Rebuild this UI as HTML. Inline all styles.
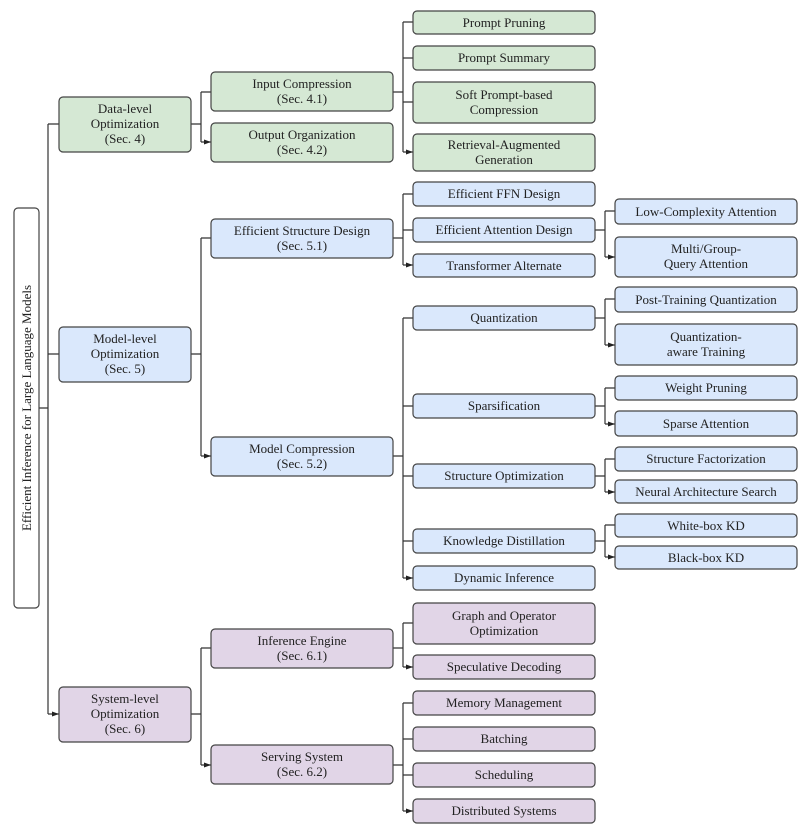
<!DOCTYPE html>
<html><head><meta charset="utf-8"><style>
html,body{margin:0;padding:0;background:#fff}
svg text{font-family:"Liberation Serif",serif;font-size:13px;fill:#222}
</style></head><body>
<svg width="807" height="831" viewBox="0 0 807 831" xmlns="http://www.w3.org/2000/svg">
<defs><marker id="a" markerWidth="7" markerHeight="6" refX="7" refY="3" orient="auto" markerUnits="userSpaceOnUse"><path d="M0,0.5 L7,3 L0,5.5z" fill="#222"/></marker></defs>
<g stroke="#333" stroke-width="1.2" fill="none">
<!-- root -->
<path d="M39,408H48M48,124V714"/>
<path d="M48,124H59M48,354H59M48,714H59" marker-end="url(#a)"/>
<!-- data -->
<path d="M191,124H201M201,92V142"/>
<path d="M201,92H211M201,142H211" marker-end="url(#a)"/>
<path d="M393,92H403M403,22V152"/>
<path d="M403,22H413M403,58H413M403,102H413M403,152H413" marker-end="url(#a)"/>
<!-- model -->
<path d="M191,354H201M201,238V456"/>
<path d="M201,238H211M201,456H211" marker-end="url(#a)"/>
<path d="M393,238H403M403,194V265"/>
<path d="M403,194H413M403,230H413M403,265H413" marker-end="url(#a)"/>
<path d="M595,230H605M605,211V257"/>
<path d="M605,211H615M605,257H615" marker-end="url(#a)"/>
<path d="M393,456H403M403,318V578"/>
<path d="M403,318H413M403,406H413M403,476H413M403,541H413M403,578H413" marker-end="url(#a)"/>
<path d="M595,318H605M605,299V345"/>
<path d="M605,299H615M605,345H615" marker-end="url(#a)"/>
<path d="M595,406H605M605,388V424"/>
<path d="M605,388H615M605,424H615" marker-end="url(#a)"/>
<path d="M595,476H605M605,459V492"/>
<path d="M605,459H615M605,492H615" marker-end="url(#a)"/>
<path d="M595,541H605M605,525V557"/>
<path d="M605,525H615M605,557H615" marker-end="url(#a)"/>
<!-- system -->
<path d="M191,714H201M201,648V765"/>
<path d="M201,648H211M201,765H211" marker-end="url(#a)"/>
<path d="M393,648H403M403,623V667"/>
<path d="M403,623H413M403,667H413" marker-end="url(#a)"/>
<path d="M393,765H403M403,703V811"/>
<path d="M403,703H413M403,739H413M403,775H413M403,811H413" marker-end="url(#a)"/>
</g>
<g stroke="#444" stroke-width="1.2">
<rect x="14" y="208" width="25" height="400" rx="4" fill="#fff"/>
<!-- green -->
<g fill="#d5e8d4">
<rect x="59" y="97" width="132" height="55" rx="4"/>
<rect x="211" y="72" width="182" height="39" rx="4"/>
<rect x="211" y="123" width="182" height="39" rx="4"/>
<rect x="413" y="11" width="182" height="23" rx="4"/>
<rect x="413" y="46" width="182" height="24" rx="4"/>
<rect x="413" y="82" width="182" height="41" rx="4"/>
<rect x="413" y="134" width="182" height="37" rx="4"/>
</g>
<g fill="#dae8fc">
<rect x="59" y="327" width="132" height="55" rx="4"/>
<rect x="211" y="219" width="182" height="39" rx="4"/>
<rect x="211" y="437" width="182" height="39" rx="4"/>
<rect x="413" y="182" width="182" height="24" rx="4"/>
<rect x="413" y="218" width="182" height="24" rx="4"/>
<rect x="413" y="254" width="182" height="23" rx="4"/>
<rect x="413" y="306" width="182" height="24" rx="4"/>
<rect x="413" y="394" width="182" height="24" rx="4"/>
<rect x="413" y="464" width="182" height="24" rx="4"/>
<rect x="413" y="529" width="182" height="24" rx="4"/>
<rect x="413" y="566" width="182" height="24" rx="4"/>
<rect x="615" y="199" width="182" height="25" rx="4"/>
<rect x="615" y="237" width="182" height="40" rx="4"/>
<rect x="615" y="287" width="182" height="25" rx="4"/>
<rect x="615" y="324" width="182" height="41" rx="4"/>
<rect x="615" y="376" width="182" height="24" rx="4"/>
<rect x="615" y="411" width="182" height="25" rx="4"/>
<rect x="615" y="447" width="182" height="24" rx="4"/>
<rect x="615" y="480" width="182" height="23" rx="4"/>
<rect x="615" y="514" width="182" height="23" rx="4"/>
<rect x="615" y="546" width="182" height="23" rx="4"/>
</g>
<g fill="#e1d5e7">
<rect x="59" y="687" width="132" height="55" rx="4"/>
<rect x="211" y="629" width="182" height="39" rx="4"/>
<rect x="211" y="745" width="182" height="39" rx="4"/>
<rect x="413" y="603" width="182" height="41" rx="4"/>
<rect x="413" y="655" width="182" height="24" rx="4"/>
<rect x="413" y="691" width="182" height="24" rx="4"/>
<rect x="413" y="727" width="182" height="24" rx="4"/>
<rect x="413" y="763" width="182" height="24" rx="4"/>
<rect x="413" y="799" width="182" height="24" rx="4"/>
</g>
</g>
<g text-anchor="middle">
<text transform="translate(31,408) rotate(-90)">Efficient Inference for Large Language Models</text>
<text x="125" y="113">Data-level</text><text x="125" y="128">Optimization</text><text x="125" y="143">(Sec. 4)</text>
<text x="302" y="88">Input Compression</text><text x="302" y="103">(Sec. 4.1)</text>
<text x="302" y="139">Output Organization</text><text x="302" y="154">(Sec. 4.2)</text>
<text x="504" y="27">Prompt Pruning</text>
<text x="504" y="62">Prompt Summary</text>
<text x="504" y="99">Soft Prompt-based</text><text x="504" y="114">Compression</text>
<text x="504" y="149">Retrieval-Augmented</text><text x="504" y="164">Generation</text>
<text x="125" y="343">Model-level</text><text x="125" y="358">Optimization</text><text x="125" y="373">(Sec. 5)</text>
<text x="302" y="235">Efficient Structure Design</text><text x="302" y="250">(Sec. 5.1)</text>
<text x="302" y="453">Model Compression</text><text x="302" y="468">(Sec. 5.2)</text>
<text x="504" y="198">Efficient FFN Design</text>
<text x="504" y="234">Efficient Attention Design</text>
<text x="504" y="270">Transformer Alternate</text>
<text x="504" y="322">Quantization</text>
<text x="504" y="410">Sparsification</text>
<text x="504" y="480">Structure Optimization</text>
<text x="504" y="545">Knowledge Distillation</text>
<text x="504" y="582">Dynamic Inference</text>
<text x="706" y="216">Low-Complexity Attention</text>
<text x="706" y="253">Multi/Group-</text><text x="706" y="268">Query Attention</text>
<text x="706" y="304">Post-Training Quantization</text>
<text x="706" y="341">Quantization-</text><text x="706" y="356">aware Training</text>
<text x="706" y="392">Weight Pruning</text>
<text x="706" y="428">Sparse Attention</text>
<text x="706" y="463">Structure Factorization</text>
<text x="706" y="496">Neural Architecture Search</text>
<text x="706" y="530">White-box KD</text>
<text x="706" y="562">Black-box KD</text>
<text x="125" y="703">System-level</text><text x="125" y="718">Optimization</text><text x="125" y="733">(Sec. 6)</text>
<text x="302" y="645">Inference Engine</text><text x="302" y="660">(Sec. 6.1)</text>
<text x="302" y="761">Serving System</text><text x="302" y="776">(Sec. 6.2)</text>
<text x="504" y="620">Graph and Operator</text><text x="504" y="635">Optimization</text>
<text x="504" y="671">Speculative Decoding</text>
<text x="504" y="707">Memory Management</text>
<text x="504" y="743">Batching</text>
<text x="504" y="779">Scheduling</text>
<text x="504" y="815">Distributed Systems</text>
</g>
</svg>
</body></html>
